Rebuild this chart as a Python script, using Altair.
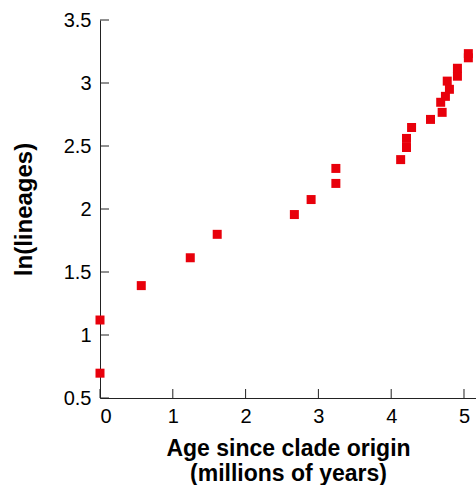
import altair as alt
import pandas as pd

# Data
age = [0, 0, 0.567, 1.24, 1.61, 2.67, 2.90, 3.24, 3.24, 4.13, 4.21, 4.21,
       4.28, 4.54, 4.70, 4.68, 4.745, 4.80, 4.77, 4.91, 4.91, 5.06, 5.06]
ln_lineages = [0.697, 1.119, 1.392, 1.613, 1.799, 1.956, 2.075, 2.203, 2.322,
               2.392, 2.488, 2.560, 2.647, 2.711, 2.767, 2.847, 2.894, 2.950,
               3.015, 3.054, 3.117, 3.200, 3.233]
x_ticks = [0, 1, 2, 3, 4, 5]
y_ticks = [0.5, 1, 1.5, 2, 2.5, 3, 3.5]

df = pd.DataFrame({"age": age, "ln": ln_lineages})
xt = pd.DataFrame({"t": x_ticks})
yt = pd.DataFrame({"t": y_ticks})

W, H = 376, 378
FONT = "Liberation Sans"

xscale = alt.Scale(domain=[0, 5.165], nice=False, zero=False)
yscale = alt.Scale(domain=[0.5, 3.5], nice=False, zero=False)

points = alt.Chart(df).mark_square(size=81, color="#e8000b", opacity=1).encode(
    x=alt.X("age:Q", scale=xscale,
            axis=alt.Axis(values=x_ticks, format="d", ticks=False, grid=False,
                          title=["Age since clade origin", "(millions of years)"],
                          labelPadding=8, titlePadding=11,
                          titleFontSize=23, titleLineHeight=25)),
    y=alt.Y("ln:Q", scale=yscale,
            axis=alt.Axis(values=y_ticks, format="~g", ticks=False, grid=False,
                          title="ln(lineages)", labelPadding=9, titlePadding=27)),
)

xtick_rules = alt.Chart(xt).mark_rule(color="#222", strokeWidth=1).encode(
    x=alt.X("t:Q", scale=xscale),
    y=alt.value(H), y2=alt.value(H - 9),
)
ytick_rules = alt.Chart(yt).mark_rule(color="#222", strokeWidth=1).encode(
    y=alt.Y("t:Q", scale=yscale),
    x=alt.value(0), x2=alt.value(9),
)

chart = alt.layer(xtick_rules, ytick_rules, points).properties(
    width=W, height=H,
    autosize=alt.AutoSizeParams(type="none"),
    padding={"left": 100, "top": 20, "right": 0, "bottom": 87},
).configure_view(stroke=None).configure_axis(
    domainColor="#222", domainWidth=1,
    labelFont=FONT, labelFontSize=20, labelColor="#000",
    titleFont=FONT, titleFontSize=24, titleFontWeight="bold", titleColor="#000",
)

chart.save("out.html", embed_options={"renderer": "svg", "actions": False})
